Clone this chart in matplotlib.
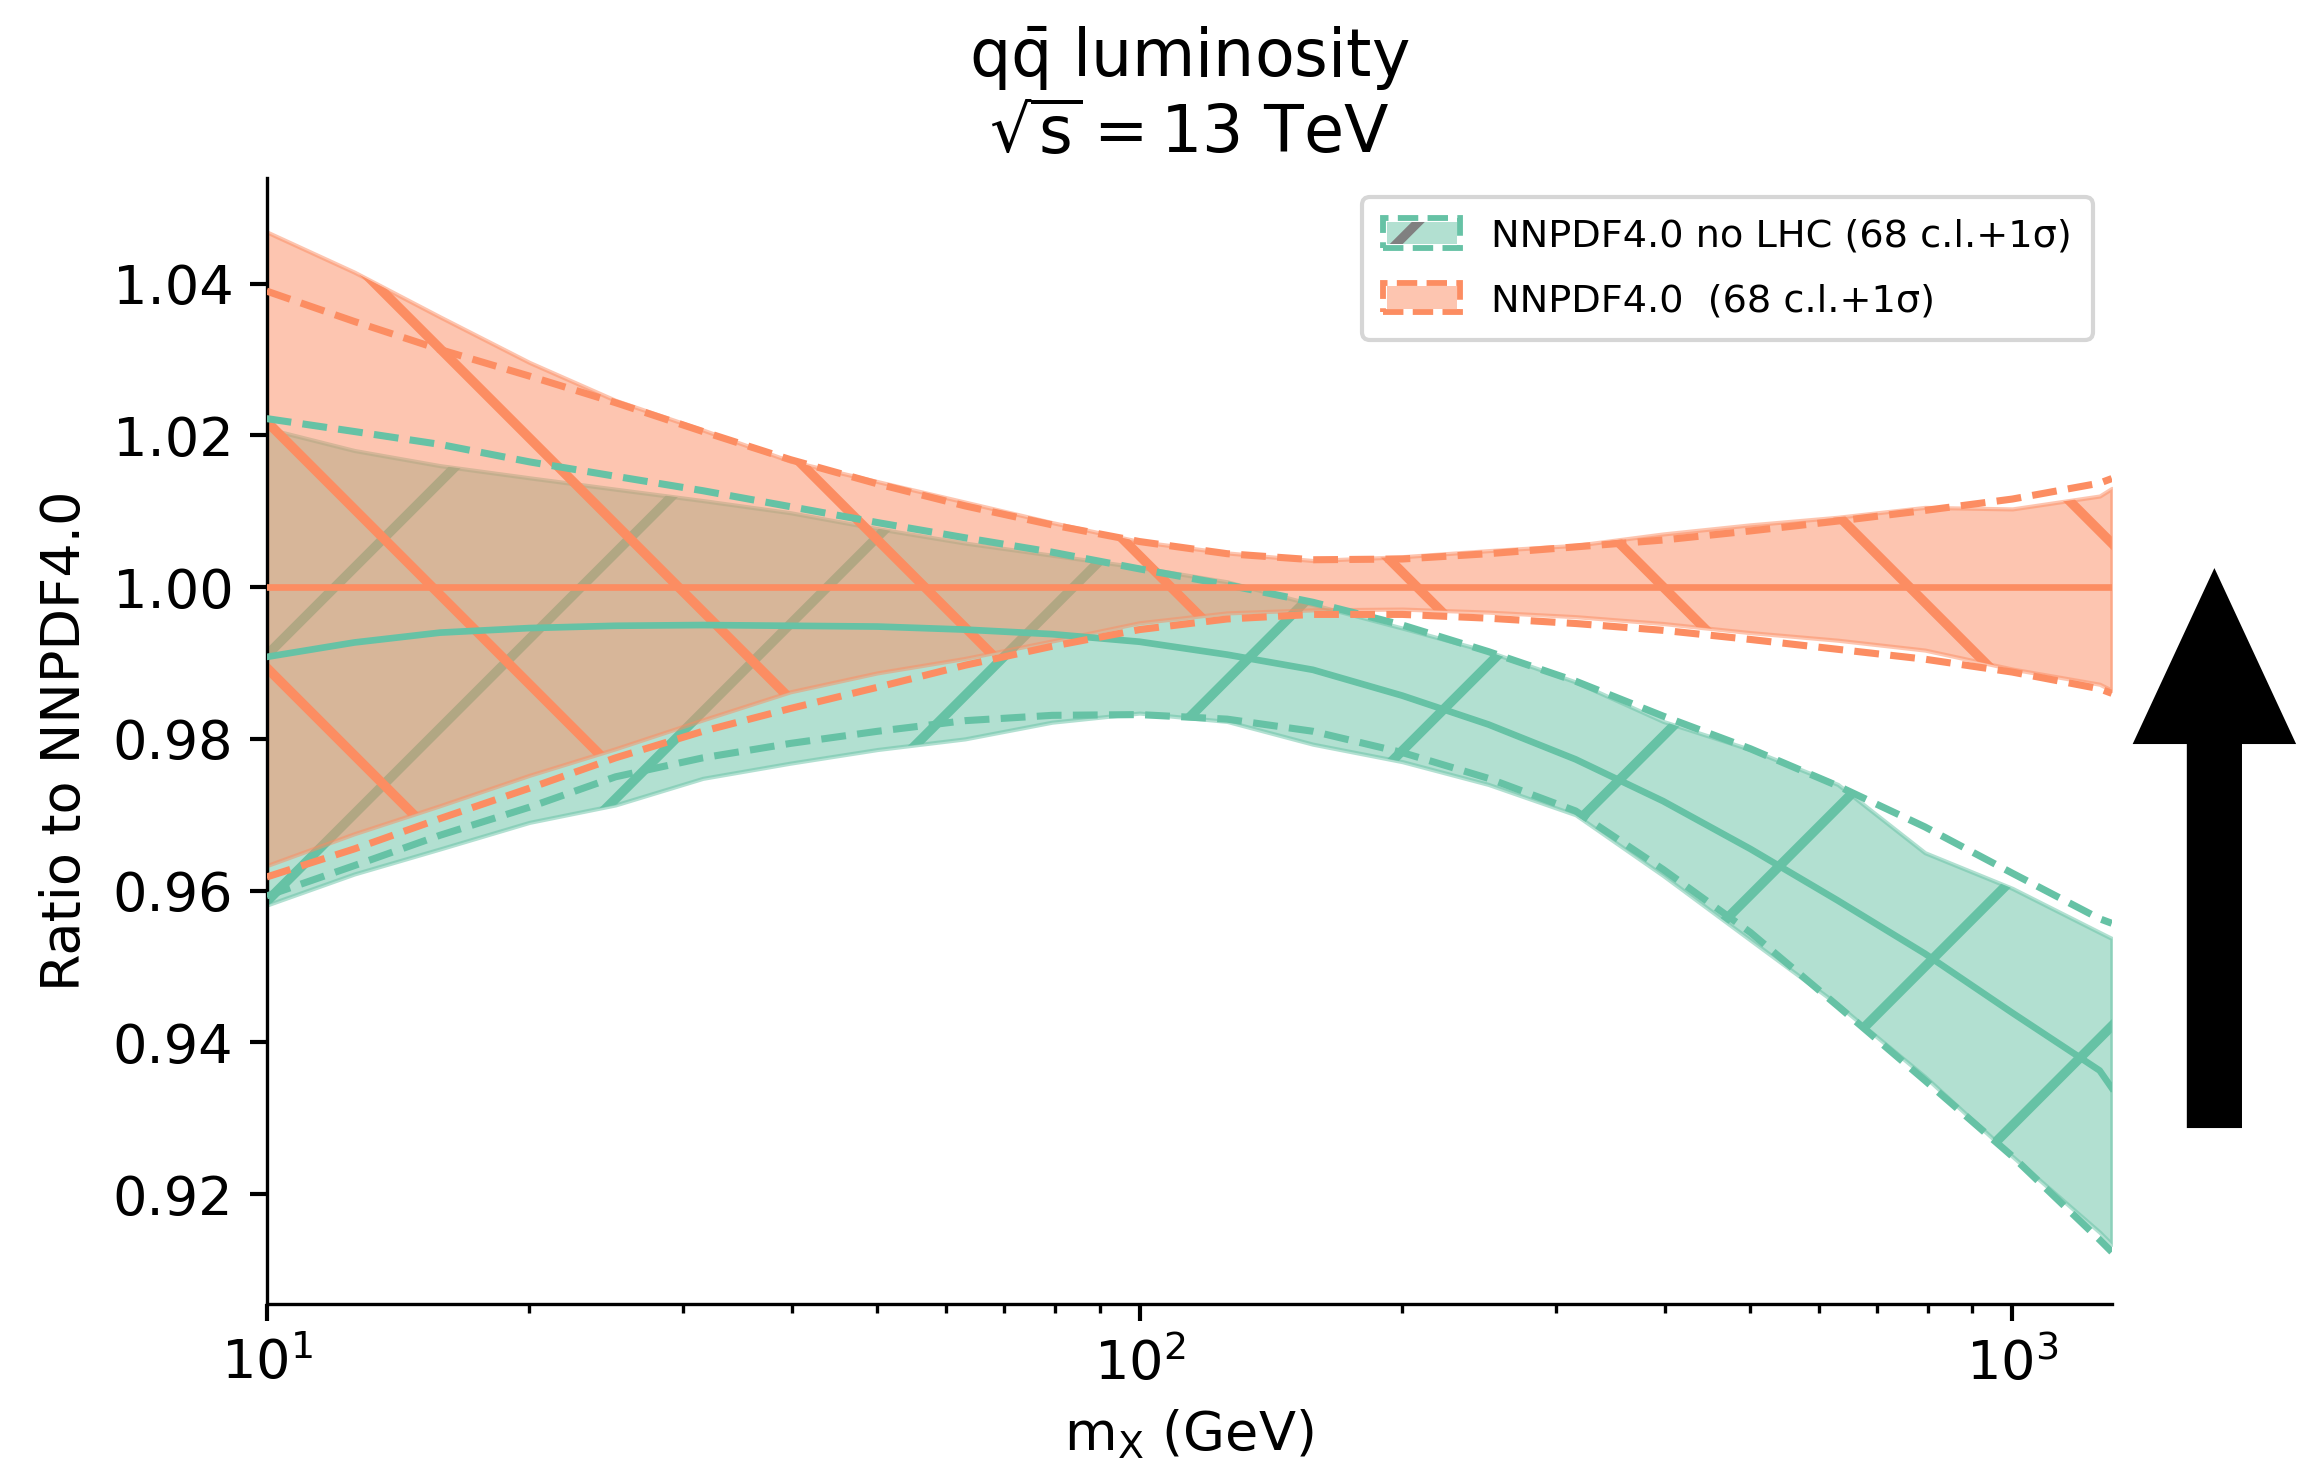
import numpy as np
import matplotlib
matplotlib.use("Agg")
import matplotlib.pyplot as plt
from matplotlib.collections import LineCollection
from matplotlib.transforms import IdentityTransform
from matplotlib.patches import Rectangle, FancyArrow, Patch
from matplotlib.lines import Line2D

plt.rcParams['font.size'] = 13
plt.rcParams['mathtext.default'] = 'regular'

GREEN = '#66c2a5'
ORANGE = '#fc8d62'

# invariant mass grid (GeV)
mx = [10, 12.6, 15.8, 20, 25.1, 31.6, 39.8, 50.1, 63.1, 79.4, 100, 126, 158,
      200, 251, 316, 398, 501, 631, 794, 1000, 1259, 1300]

# NNPDF4.0 no LHC, ratio to NNPDF4.0
nolhc_cv = [0.9908, 0.9927, 0.9940, 0.9946, 0.9949, 0.9950, 0.9949, 0.9948,
            0.9944, 0.9938, 0.9928, 0.9911, 0.9891, 0.9857, 0.9819, 0.9773,
            0.9718, 0.9655, 0.9587, 0.9517, 0.9439, 0.9363, 0.9340]
nolhc_68_hi = [1.0209, 1.0180, 1.0160, 1.0144, 1.0129, 1.0114, 1.0098, 1.0077,
               1.0058, 1.0042, 1.0026, 1.0007, 0.9977, 0.9946, 0.9915, 0.9875,
               0.9823, 0.9786, 0.9740, 0.9650, 0.9603, 0.9545, 0.9537]
nolhc_68_lo = [0.9581, 0.9622, 0.9655, 0.9690, 0.9713, 0.9748, 0.9768, 0.9786,
               0.9800, 0.9822, 0.9834, 0.9823, 0.9793, 0.9770, 0.9740, 0.9700,
               0.9620, 0.9535, 0.9450, 0.9355, 0.9250, 0.9150, 0.9134]
nolhc_1s_hi = [1.0222, 1.0205, 1.0188, 1.0165, 1.0146, 1.0127, 1.0106, 1.0085,
               1.0065, 1.0046, 1.0024, 1.0003, 0.9980, 0.9950, 0.9915, 0.9876,
               0.9830, 0.9787, 0.9738, 0.9684, 0.9623, 0.9563, 0.9557]
nolhc_1s_lo = [0.9593, 0.9633, 0.9673, 0.9710, 0.9750, 0.9775, 0.9794, 0.9810,
               0.9824, 0.9831, 0.9832, 0.9826, 0.9810, 0.9782, 0.9748, 0.9705,
               0.9628, 0.9545, 0.9448, 0.9350, 0.9250, 0.9140, 0.9124]

# NNPDF4.0, ratio to itself
nn40_cv = [1.0, 1.0, 1.0, 1.0, 1.0, 1.0, 1.0, 1.0, 1.0, 1.0, 1.0, 1.0, 1.0,
           1.0, 1.0, 1.0, 1.0, 1.0, 1.0, 1.0, 1.0, 1.0, 1.0]
nn40_68_hi = [1.0468, 1.0415, 1.0356, 1.0296, 1.0246, 1.0207, 1.0166, 1.0139,
              1.0112, 1.0085, 1.0060, 1.0045, 1.0035, 1.0040, 1.0048, 1.0055,
              1.0070, 1.0082, 1.0092, 1.0105, 1.0103, 1.0120, 1.0130]
nn40_68_lo = [0.9633, 0.9675, 0.9712, 0.9752, 0.9787, 0.9825, 0.9862, 0.9887,
              0.9906, 0.9929, 0.9953, 0.9966, 0.9970, 0.9971, 0.9967, 0.9961,
              0.9952, 0.9940, 0.9930, 0.9917, 0.9892, 0.9872, 0.9864]
nn40_1s_hi = [1.0390, 1.0350, 1.0313, 1.0278, 1.0243, 1.0205, 1.0168, 1.0136,
              1.0107, 1.0082, 1.0060, 1.0044, 1.0036, 1.0037, 1.0044, 1.0053,
              1.0062, 1.0074, 1.0087, 1.0101, 1.0116, 1.0137, 1.0143]
nn40_1s_lo = [0.9618, 0.9655, 0.9695, 0.9735, 0.9775, 0.9810, 0.9840, 0.9868,
              0.9897, 0.9922, 0.9944, 0.9958, 0.9964, 0.9964, 0.9959, 0.9952,
              0.9943, 0.9931, 0.9918, 0.9905, 0.9888, 0.9866, 0.9860]

labels = ['NNPDF4.0 no LHC (68 c.l.+1σ)', 'NNPDF4.0  (68 c.l.+1σ)']

# hatch geometry in output pixels (big, sparse hatch as in the original)
HATCH_STEP = 246.2
HATCH_LW = 2.3
DASH = (0, (3.5, 1.6))

fig = plt.figure(figsize=(2311 / 300, 1464 / 300), dpi=300)
ax = fig.add_axes([0.1154, 0.1091, 0.7984, 0.7693])


def hatch(band, kind, offset, color, z):
    W, H = fig.bbox.width, fig.bbox.height
    base = offset % HATCH_STEP
    segs = []
    if kind == '/':
        for c in np.arange(base - H - HATCH_STEP, W + HATCH_STEP, HATCH_STEP):
            segs.append([(c, 0), (c + H, H)])
    else:
        for c in np.arange(base - HATCH_STEP, W + H + HATCH_STEP, HATCH_STEP):
            segs.append([(c, 0), (c - H, H)])
    lc = LineCollection(segs, colors=color, linewidths=HATCH_LW,
                        transform=IdentityTransform(), zorder=z)
    ax.add_collection(lc, autolim=False)
    lc.set_clip_path(band.get_paths()[0], band.get_transform())


b1 = ax.fill_between(mx, nolhc_68_lo, nolhc_68_hi, facecolor=GREEN, edgecolor=GREEN,
                     alpha=0.5, linewidth=1.0, zorder=1)
hatch(b1, '/', -555.2, GREEN, 1.5)
b2 = ax.fill_between(mx, nn40_68_lo, nn40_68_hi, facecolor=ORANGE, edgecolor=ORANGE,
                     alpha=0.5, linewidth=1.0, zorder=2)
hatch(b2, '\\', 1309.2, ORANGE, 2.5)

for cv, hi, lo, col in [(nolhc_cv, nolhc_1s_hi, nolhc_1s_lo, GREEN),
                        (nn40_cv, nn40_1s_hi, nn40_1s_lo, ORANGE)]:
    ax.plot(mx, cv, color=col, lw=1.6, zorder=3)
    ax.plot(mx, hi, color=col, lw=1.7, ls=DASH, zorder=3)
    ax.plot(mx, lo, color=col, lw=1.7, ls=DASH, zorder=3)

ax.set_xscale('log')
ax.set_xlim(10, 1300)
ax.set_ylim(0.9055, 1.0539)
ax.set_yticks([0.92, 0.94, 0.96, 0.98, 1.00, 1.02, 1.04])
ax.spines['top'].set_visible(False)
ax.spines['right'].set_visible(False)
ax.tick_params(which='major', length=4, width=1, pad=4)
ax.tick_params(which='minor', length=2.2, width=0.8)

ax.set_xlabel('$m_X$ (GeV)')
ax.set_ylabel('Ratio to NNPDF4.0', labelpad=5.3)
ax.set_title('$q\\bar{q}$ luminosity\n$\\sqrt{s} = 13$ TeV', fontsize=15.6)


class BandHandler:
    def __init__(self, color, stroke):
        self.color = color
        self.stroke = stroke

    def legend_artist(self, legend, orig_handle, fontsize, handlebox):
        x0, y0 = -handlebox.xdescent, -handlebox.ydescent
        w, h = handlebox.width, handlebox.height
        tr = handlebox.get_transform()
        fill = Rectangle((x0 + 0.8, y0 + 0.8), w - 1.6, h - 1.6, facecolor=self.color,
                         alpha=0.5, edgecolor='none', transform=tr)
        handlebox.add_artist(fill)
        if self.stroke:
            s = Line2D([x0 + 0.12 * w, x0 + 0.12 * w + h], [y0, y0 + h], color='0.5',
                       lw=2.2, transform=tr, solid_capstyle='butt')
            s.set_clip_path(fill)
            handlebox.add_artist(s)
        border = Rectangle((x0, y0), w, h, facecolor='none', edgecolor=self.color,
                           linestyle=(0, (3.5, 1.6)), lw=1.4, transform=tr)
        handlebox.add_artist(border)
        return border


p1, p2 = Patch(), Patch()
ax.legend([p1, p2], labels, loc='upper right', fontsize=9.2,
          handleheight=0.8, labelspacing=0.75, borderpad=0.55,
          handler_map={p1: BandHandler(GREEN, True), p2: BandHandler(ORANGE, False)})

fig.add_artist(FancyArrow(0.9582, 0.2309, 0, 0.3777, width=0.02207, head_width=0.0679,
                          head_length=0.1154, length_includes_head=True,
                          color='black', transform=fig.transFigure))

fig.savefig('out.png', dpi=300)
